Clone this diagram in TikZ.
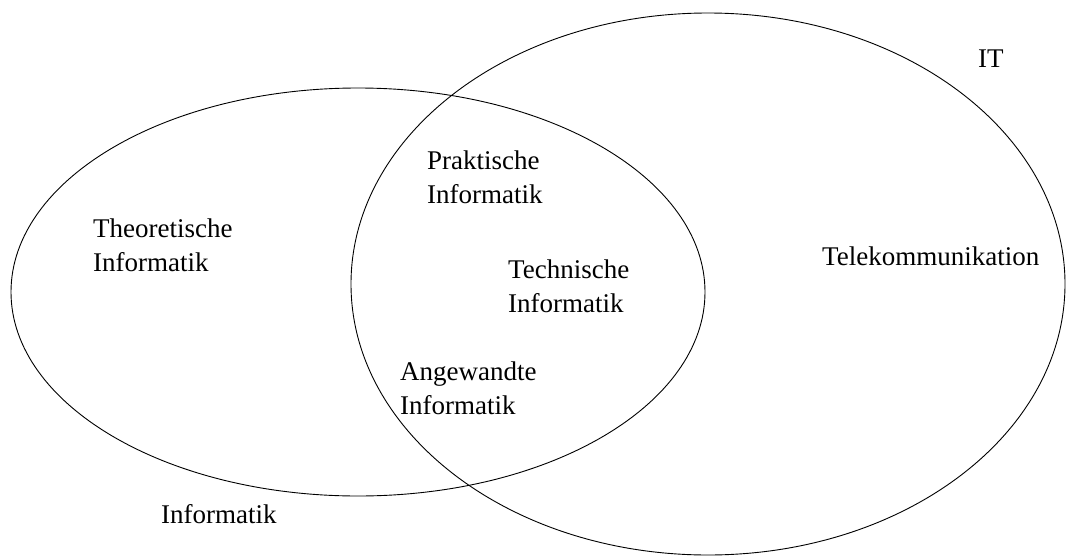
\documentclass[tikz,border=0pt]{standalone}
\usepackage{fontspec}
\setmainfont{Liberation Serif}
\begin{document}
\begin{tikzpicture}[x=1pt,y=-1pt,
  setring/.style={draw=black,line width=0.9pt},
  lbl/.style={anchor=base west,inner sep=0pt,align=left,font=\fontsize{27}{34}\selectfont}]
\useasboundingbox (0,0) rectangle (1066,557);
\draw[setring] (358,292) ellipse [x radius=347, y radius=204];
\draw[setring] (708,284) ellipse [x radius=357, y radius=271];
\node[lbl] (it) at (978,67) {IT};
\node[lbl] (prak) at (427,203) {Praktische\\Informatik};
\node[lbl] (theo) at (93,271) {Theoretische\\Informatik};
\node[lbl] (tech) at (508,312) {Technische\\Informatik};
\node[lbl] (tele) at (822,265) {Telekommunikation};
\node[lbl] (ange) at (400,414) {Angewandte\\Informatik};
\node[lbl] (inf) at (161,523) {Informatik};
\end{tikzpicture}
\end{document}
